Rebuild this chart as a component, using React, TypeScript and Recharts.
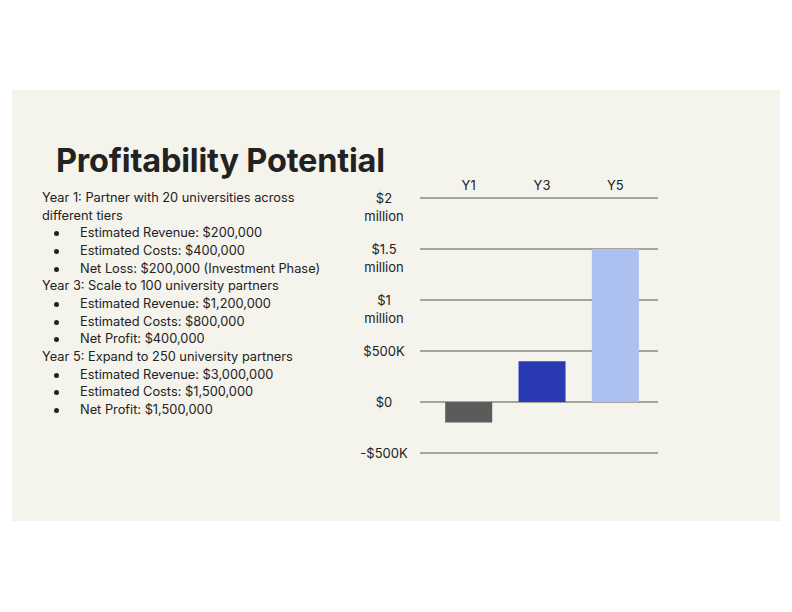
import React from 'react';
import { BarChart, Bar, XAxis, YAxis, CartesianGrid, Cell } from 'recharts';

// net profit per milestone year
const years = ['Y1', 'Y3', 'Y5'];
const netProfit = [-200000, 400000, 1500000];
const barColors = ['#5b5b5b', '#2a3ab2', '#adc1f0'];
const yTicks = [-500000, 0, 500000, 1000000, 1500000, 2000000];
const yTickLabels: Record<number, string[]> = {
  [-500000]: ['-$500K'],
  0: ['$0'],
  500000: ['$500K'],
  1000000: ['$1', 'million'],
  1500000: ['$1.5', 'million'],
  2000000: ['$2', 'million'],
};

const plan = [
  {
    heading: 'Year 1: Partner with 20 universities across different tiers',
    items: ['Estimated Revenue: $200,000', 'Estimated Costs: $400,000', 'Net Loss: $200,000 (Investment Phase)'],
  },
  {
    heading: 'Year 3: Scale to 100 university partners',
    items: ['Estimated Revenue: $1,200,000', 'Estimated Costs: $800,000', 'Net Profit: $400,000'],
  },
  {
    heading: 'Year 5: Expand to 250 university partners',
    items: ['Estimated Revenue: $3,000,000', 'Estimated Costs: $1,500,000', 'Net Profit: $1,500,000'],
  },
];

const chartData = years.map((year, i) => ({ year, profit: netProfit[i] }));

const FONT = 'Inter, "Noto Sans", sans-serif';
const TEXT = '#222222';

const YTick = (props: any) => {
  const { y, payload } = props;
  const lines = yTickLabels[payload.value] || [String(payload.value)];
  return (
    <text x={44} y={y + 4.5} textAnchor="middle" fill={TEXT} fontSize={13} fontFamily={FONT}>
      {lines.map((line, i) => (
        <tspan key={i} x={44} dy={i === 0 ? 0 : 18}>
          {line}
        </tspan>
      ))}
    </text>
  );
};

const App = () => {
  return (
    <div style={{ position: 'relative', width: 776, height: 596, fontFamily: FONT, color: TEXT }}>
      <div
        style={{
          position: 'absolute',
          left: 4,
          top: 82,
          width: 768,
          height: 431,
          background: '#f4f3ec',
        }}
      />
      <div
        style={{
          position: 'absolute',
          left: 48,
          top: 134,
          fontSize: 32.5,
          fontWeight: 700,
          lineHeight: '38px',
          letterSpacing: -0.2,
          color: '#222',
        }}
      >
        Profitability Potential
      </div>
      <div
        style={{
          position: 'absolute',
          left: 34,
          top: 181,
          width: 290,
          fontSize: 12.8,
          lineHeight: '17.67px',
        }}
      >
        {plan.map((section) => (
          <div key={section.heading}>
            <div>{section.heading}</div>
            {section.items.map((item) => (
              <div key={item} style={{ position: 'relative', paddingLeft: 38 }}>
                <span
                  style={{
                    position: 'absolute',
                    left: 12,
                    top: 7,
                    width: 5,
                    height: 5,
                    borderRadius: '50%',
                    background: TEXT,
                  }}
                />
                {item}
              </div>
            ))}
          </div>
        ))}
      </div>
      <div style={{ position: 'absolute', left: 332, top: 152 }}>
        <BarChart
          width={330}
          height={310}
          data={chartData}
          margin={{ top: 8, right: 12, bottom: 17, left: 0 }}
          barCategoryGap="18%"
        >
          <CartesianGrid vertical={false} stroke="#555555" strokeWidth={1} />
          <XAxis
            dataKey="year"
            orientation="top"
            height={30}
            axisLine={false}
            tickLine={false}
            padding={{ left: 12, right: 6 }}
            tick={{ fill: TEXT, fontSize: 13, fontFamily: FONT }}
          />
          <YAxis
            width={80}
            domain={[-500000, 2000000]}
            ticks={yTicks}
            axisLine={false}
            tickLine={false}
            tick={<YTick />}
          />
          <Bar dataKey="profit" isAnimationActive={false}>
            {chartData.map((d, i) => (
              <Cell key={d.year} fill={barColors[i]} />
            ))}
          </Bar>
        </BarChart>
      </div>
    </div>
  );
};

export default App;
